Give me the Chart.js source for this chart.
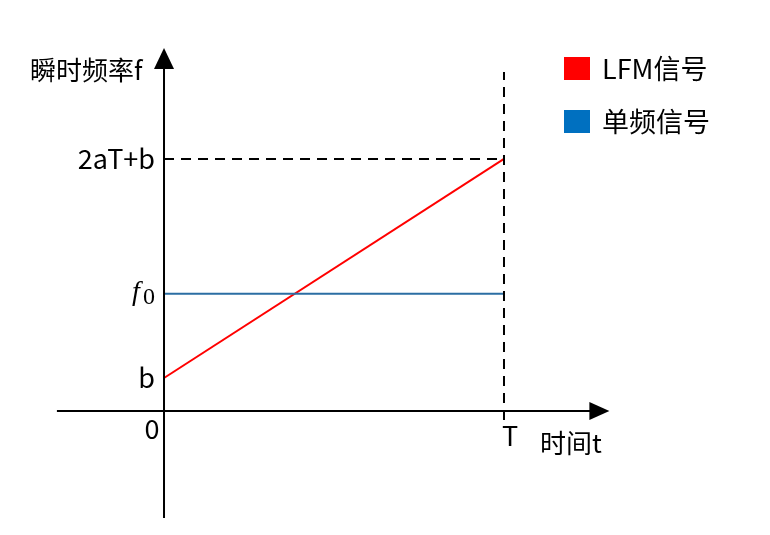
<!DOCTYPE html>
<html>
<head>
<meta charset="utf-8">
<script src="https://cdn.jsdelivr.net/npm/chart.js@4"></script>
<style>
  html, body { margin: 0; padding: 0; background: #fff; }
  #wrap { width: 770px; height: 535px; }
</style>
</head>
<body>
<div id="wrap"><canvas id="chart"></canvas></div>
<script>
// --- Data (T = 1, b = 1) ---
const timeValues = [0, 1];            // 0 .. T
const lfmValues = [1, 7.64];          // b .. 2aT+b
const singleValues = [3.55, 3.55];    // f0
const yTickValues = [1, 3.55, 7.64];
const yTickLabels = ['b', 'f0', '2aT+b'];
const xTickValues = [0, 1];
const xTickLabels = ['0', 'T'];
const seriesNames = ['LFM信号', '单频信号'];
const xAxisExtent = [-0.315, 1.31];
const yAxisExtent = [-3.24, 11.0];
const guideYExtent = [-0.27, 10.27];

const CJK = '"Noto Sans CJK SC", "Noto Sans", sans-serif';
const RED = '#ff0000';
const BLUE_LINE = '#2b6ea3';
const BLUE_KEY = '#0070c0';

// --- Axes, labels, legend ---
const schematic = {
  id: 'schematic',
  afterDatasetsDraw(chart) {
    const ctx = chart.ctx;
    const xs = chart.scales.x, ys = chart.scales.y;
    const x0 = xs.getPixelForValue(0), y0 = ys.getPixelForValue(0);
    const xl = xs.getPixelForValue(xAxisExtent[0]), xr = xs.getPixelForValue(xAxisExtent[1]);
    const yb = ys.getPixelForValue(yAxisExtent[0]), yt = ys.getPixelForValue(yAxisExtent[1]);
    ctx.save();
    ctx.strokeStyle = '#000';
    ctx.fillStyle = '#000';
    ctx.lineWidth = 2;
    // axis lines
    ctx.beginPath();
    ctx.moveTo(xl, y0); ctx.lineTo(xr - 16, y0);
    ctx.moveTo(x0, yb); ctx.lineTo(x0, yt + 18);
    ctx.stroke();
    // arrow heads
    ctx.beginPath();
    ctx.moveTo(xr, y0); ctx.lineTo(xr - 20, y0 - 9); ctx.lineTo(xr - 20, y0 + 9); ctx.closePath();
    ctx.fill();
    ctx.beginPath();
    ctx.moveTo(x0, yt); ctx.lineTo(x0 - 10, yt + 21); ctx.lineTo(x0 + 10, yt + 21); ctx.closePath();
    ctx.fill();

    // y tick labels
    ctx.textBaseline = 'middle';
    ctx.textAlign = 'right';
    yTickValues.forEach((v, i) => {
      const py = ys.getPixelForValue(v);
      const lab = yTickLabels[i];
      if (lab === 'f0') {
        ctx.font = 'italic 28px "Liberation Serif", serif';
        ctx.textAlign = 'left';
        ctx.fillText('f', x0 - 32, py - 1);
        ctx.font = '24px "Liberation Serif", serif';
        ctx.fillText('0', x0 - 21, py + 4);
        ctx.textAlign = 'right';
      } else {
        ctx.font = '27px ' + CJK;
        ctx.fillText(lab, x0 - 9, py);
      }
    });
    // x tick labels
    ctx.font = '27px ' + CJK;
    ctx.textAlign = 'center';
    xTickValues.forEach((v, i) => {
      const px = xs.getPixelForValue(v);
      if (i === 0) ctx.fillText(xTickLabels[i], px - 12, y0 + 18);
      else ctx.fillText(xTickLabels[i], px + 6, y0 + 25);
    });
    // axis titles
    ctx.font = '26px ' + CJK;
    ctx.textAlign = 'left';
    ctx.fillText('时间t', xs.getPixelForValue(1) + 36, y0 + 32);
    ctx.fillText('瞬时频率f', 30, ys.getPixelForValue(yAxisExtent[1]) + 22);

    // legend
    const keys = [RED, BLUE_KEY];
    seriesNames.forEach((name, i) => {
      const cy = 69 + i * 53;
      ctx.fillStyle = keys[i];
      ctx.fillRect(564, cy - 12, 26, 23);
      ctx.fillStyle = '#000';
      ctx.font = '27px ' + CJK;
      ctx.fillText(name, 602, cy);
    });
    ctx.restore();
  }
};

const pts = (xv, yv) => xv.map((x, i) => ({ x, y: yv[i] }));

new Chart(document.getElementById('chart'), {
  type: 'scatter',
  data: {
    datasets: [
      { label: 'guideV', data: pts([1, 1], guideYExtent), showLine: true,
        borderColor: '#000', borderWidth: 2, borderDash: [10, 7], pointRadius: 0 },
      { label: 'guideH', data: pts([0, 1], [lfmValues[1], lfmValues[1]]), showLine: true,
        borderColor: '#000', borderWidth: 2, borderDash: [10, 7], pointRadius: 0 },
      { label: seriesNames[1], data: pts(timeValues, singleValues), showLine: true,
        borderColor: BLUE_LINE, borderWidth: 2, pointRadius: 0 },
      { label: seriesNames[0], data: pts(timeValues, lfmValues), showLine: true,
        borderColor: RED, borderWidth: 2, pointRadius: 0 }
    ]
  },
  options: {
    responsive: true,
    maintainAspectRatio: false,
    animation: false,
    devicePixelRatio: 1,
    layout: { padding: 0 },
    plugins: { legend: { display: false }, tooltip: { enabled: false } },
    scales: {
      x: { type: 'linear', display: false, min: -0.4824, max: 1.7824 },
      y: { type: 'linear', display: false, min: -3.7576, max: 12.4545 }
    }
  },
  plugins: [schematic]
});
</script>
</body>
</html>
